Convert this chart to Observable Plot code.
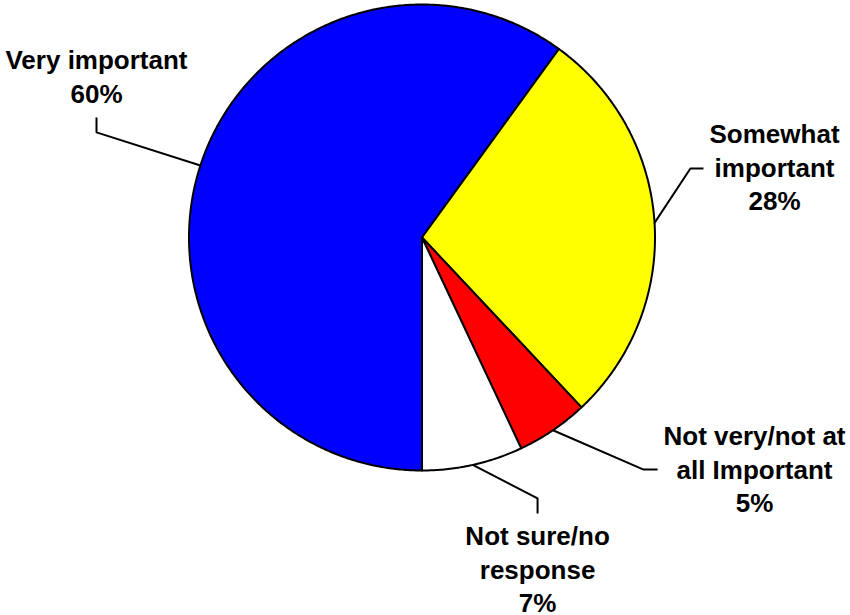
<!DOCTYPE html>
<html><head><meta charset="utf-8">
<script src="https://cdn.jsdelivr.net/npm/d3@7"></script>
<script src="https://cdn.jsdelivr.net/npm/@observablehq/plot@0.6"></script>
<style>body{margin:0;background:#fff}</style>
</head><body><div id="chart"></div>
<script>
// ---- data ----
const categories = ["Very important", "Somewhat important", "Not very/not at all Important", "Not sure/no response"];
const values = [60, 28, 5, 7];
const labelLines = [["Very important"], ["Somewhat", "important"], ["Not very/not at", "all Important"], ["Not sure/no", "response"]];
const colors = ["#0000ff", "#ffff00", "#ff0000", "#ffffff"];

// ---- layout (in pie-radius units, y up, centre = 0,0) ----
const labelPos = [[-1.397, 0.577], [1.513, 0.116], [1.427, -1.180], [0.496, -1.609]];
const leaderElbow = [[-1.397, 0.451], [1.152, 0.296], [0.951, -0.996], [0.496, -1.120]];
const leaderEnd = [[-1.397, 0.515], [1.208, 0.296], [1.011, -0.996], [0.496, -1.185]];

const arcs = d3.pie().sort(null).startAngle(Math.PI).endAngle(3 * Math.PI)(values);

const slicePts = [];
arcs.forEach((a, i) => {
  slicePts.push({k: categories[i], x: 0, y: 0});
  const n = Math.max(2, Math.ceil((a.endAngle - a.startAngle) / (Math.PI / 360)));
  for (let j = 0; j <= n; j++) {
    const t = a.startAngle + (a.endAngle - a.startAngle) * j / n;
    slicePts.push({k: categories[i], x: Math.sin(t), y: Math.cos(t)});
  }
});

const leaderPts = [];
arcs.forEach((a, i) => {
  const m = (a.startAngle + a.endAngle) / 2;
  leaderPts.push(
    {k: i, x: Math.sin(m), y: Math.cos(m)},
    {k: i, x: leaderElbow[i][0], y: leaderElbow[i][1]},
    {k: i, x: leaderEnd[i][0], y: leaderEnd[i][1]}
  );
});

const labels = categories.map((c, i) => ({
  text: labelLines[i].join("\n") + "\n" + values[i] + "%",
  x: labelPos[i][0], y: labelPos[i][1]
}));

const chart = Plot.plot({
  width: 850,
  height: 615,
  marginLeft: 188.5,
  marginRight: 195.5,
  marginTop: 4,
  marginBottom: 145,
  x: {domain: [-1, 1], axis: null},
  y: {domain: [-1, 1], axis: null},
  color: {domain: categories, range: colors},
  style: {background: "white", overflow: "visible"},
  marks: [
    Plot.line(slicePts, {x: "x", y: "y", z: "k", fill: "k", stroke: "black", strokeWidth: 2, curve: "linear-closed", strokeLinejoin: "round"}),
    Plot.line(leaderPts, {x: "x", y: "y", z: "k", stroke: "black", strokeWidth: 2, strokeLinejoin: "miter", strokeLinecap: "butt"}),
    Plot.text(labels, {x: "x", y: "y", text: "text", lineAnchor: "bottom", lineHeight: 1.3, fontSize: 26, fontWeight: "bold", fontFamily: "Liberation Sans, Arial, sans-serif", fill: "black", textAnchor: "middle"})
  ]
});
document.getElementById("chart").appendChild(chart);
</script>
</body></html>
